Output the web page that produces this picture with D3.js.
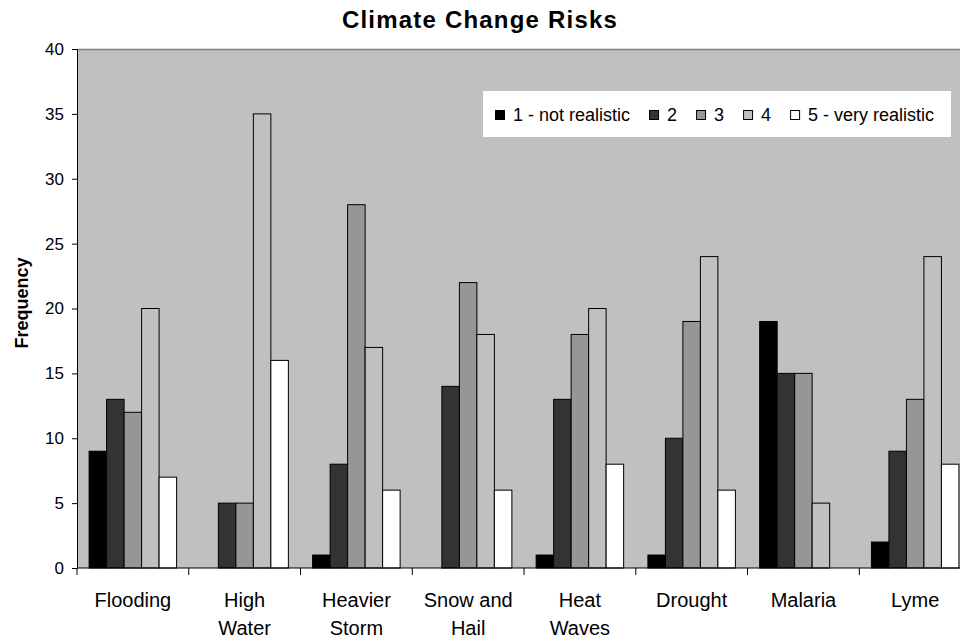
<!DOCTYPE html>
<html>
<head>
<meta charset="utf-8">
<script src="https://cdn.jsdelivr.net/npm/d3@7"></script>
<style>
  html, body { margin: 0; padding: 0; background: #fff; }
  svg { display: block; font-family: "Liberation Sans", Arial, sans-serif; }
</style>
</head>
<body>
<svg id="chart" width="960" height="641"></svg>
<script>
// ---- data ----
const categories = [["Flooding"], ["High", "Water"], ["Heavier", "Storm"], ["Snow and", "Hail"], ["Heat", "Waves"], ["Drought"], ["Malaria"], ["Lyme"]];
const seriesNames = ["1 - not realistic", "2", "3", "4", "5 - very realistic"];
const s1 = [9, 0, 1, 0, 1, 1, 19, 2];
const s2 = [13, 5, 8, 14, 13, 10, 15, 9];
const s3 = [12, 5, 28, 22, 18, 19, 15, 13];
const s4 = [20, 35, 17, 18, 20, 24, 5, 24];
const s5 = [7, 16, 6, 6, 8, 6, 0, 8];
const seriesValues = [s1, s2, s3, s4, s5];
const yTicks = [0, 5, 10, 15, 20, 25, 30, 35, 40];
const colors = ["#000000", "#333333", "#969696", "#c0c0c0", "#ffffff"];

// ---- layout ----
const svg = d3.select("#chart");
const pLeft = 77, pTop = 49, pBottom = 568, bandW = 111.76;
const pRight = pLeft + bandW * categories.length;

const catKeys = categories.map(c => c.join(" "));
const x = d3.scaleBand().domain(catKeys).range([pLeft, pRight]).paddingInner(0).paddingOuter(0);
const xs = d3.scaleBand().domain(d3.range(seriesNames.length)).range([12.1, 12.1 + 17.5 * 5]).padding(0);
const y = d3.scaleLinear().domain([0, 40]).range([pBottom, pTop]);

// title
svg.append("text").attr("x", 480).attr("y", 28).attr("text-anchor", "middle")
  .attr("font-size", 24).attr("font-weight", "bold").attr("letter-spacing", 1.2).text("Climate Change Risks");

// plot area
svg.append("rect").attr("x", pLeft).attr("y", pTop).attr("width", pRight - pLeft).attr("height", pBottom - pTop)
  .attr("fill", "#c0c0c0");
svg.append("line").attr("x1", pLeft).attr("x2", pRight).attr("y1", pTop + 0.5).attr("y2", pTop + 0.5)
  .attr("stroke", "#808080").attr("stroke-width", 1.5);

// bars
const groups = svg.append("g").selectAll("g").data(catKeys).join("g")
  .attr("transform", d => `translate(${x(d)},0)`);
groups.selectAll("rect")
  .data((d, i) => seriesValues.map((vals, s) => ({ s, v: vals[i] })).filter(o => o.v > 0))
  .join("rect")
  .attr("x", d => xs(d.s))
  .attr("width", xs.bandwidth())
  .attr("y", d => y(d.v))
  .attr("height", d => y(0) - y(d.v))
  .attr("fill", d => colors[d.s])
  .attr("stroke", "#000")
  .attr("stroke-width", 1);

// y axis
const yAxis = d3.axisLeft(y).tickValues(yTicks).tickSize(5).tickPadding(8).tickSizeOuter(0);
const gy = svg.append("g").attr("transform", `translate(${pLeft},0)`).call(yAxis);
gy.selectAll("text").attr("font-size", 17).attr("font-family", "Liberation Sans, Arial, sans-serif").attr("fill", "#000");
gy.selectAll("line").attr("stroke", "#000");
gy.select(".domain").attr("stroke", "#000");

// x axis (ticks at category boundaries)
const gx = svg.append("g").attr("transform", `translate(0,${pBottom})`);
gx.append("line").attr("x1", pLeft).attr("x2", pRight).attr("stroke", "#000");
const boundaries = catKeys.map(k => x(k)).concat([pRight]);
gx.selectAll("line.tk").data(boundaries).join("line").attr("class", "tk")
  .attr("x1", d => d).attr("x2", d => d).attr("y1", 0).attr("y2", 7).attr("stroke", "#000");
const lbl = gx.selectAll("text.cl").data(categories).join("text").attr("class", "cl")
  .attr("text-anchor", "middle").attr("font-size", 20)
  .attr("x", (d, i) => x(catKeys[i]) + x.bandwidth() / 2);
lbl.selectAll("tspan").data(d => d).join("tspan")
  .attr("x", function () { return this.parentNode.getAttribute("x"); })
  .attr("y", (d, j) => 39 + j * 28)
  .text(d => d);

// y label
svg.append("text").attr("transform", "translate(28,303) rotate(-90)").attr("text-anchor", "middle")
  .attr("font-size", 18).attr("font-weight", "bold").text("Frequency");

// legend
const lg = svg.append("g");
lg.append("rect").attr("x", 483).attr("y", 91).attr("width", 468).attr("height", 46).attr("fill", "#fff");
let lx = 495;
seriesNames.forEach((name, i) => {
  lg.append("rect").attr("x", lx + 0.5).attr("y", 110.5).attr("width", 9).attr("height", 9)
    .attr("fill", colors[i]).attr("stroke", "#000");
  const t = lg.append("text").attr("x", lx + 18).attr("y", 121).attr("font-size", 18).text(name);
  lx = lx + 18 + t.node().getComputedTextLength() + 19;
});
</script>
</body>
</html>
